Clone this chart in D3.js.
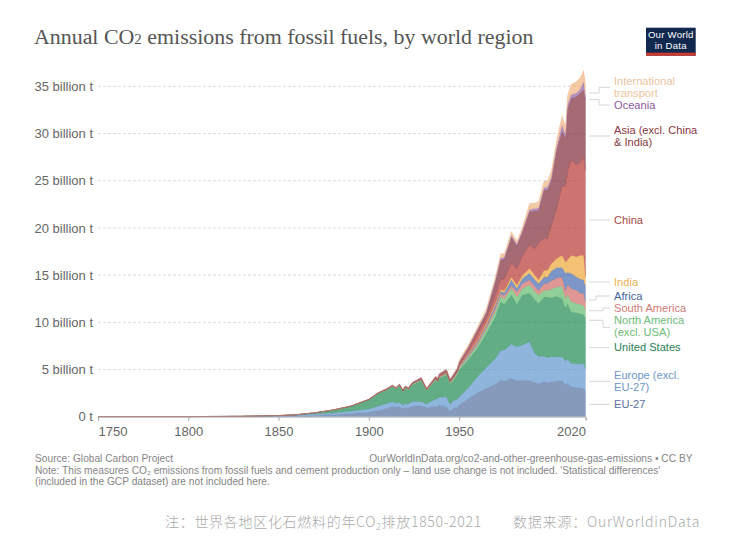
<!DOCTYPE html>
<html>
<head>
<meta charset="utf-8">
<script src="https://cdn.jsdelivr.net/npm/d3@7"></script>
<style>
  body { margin: 0; background: #fff; }
  text { font-family: "Liberation Sans", Arial, sans-serif; }
</style>
</head>
<body>
<div id="chart"></div>
<script>
// DATA (billion tonnes)
var years = [1750, 1800, 1830, 1850, 1860, 1870, 1880, 1890, 1900, 1905, 1910, 1913, 1915, 1917, 1919, 1920, 1922, 1924, 1929, 1932, 1937, 1938, 1939, 1943, 1945, 1947, 1949, 1950, 1955, 1960, 1965, 1970, 1973, 1975, 1979, 1982, 1985, 1989, 1992, 1994, 1997, 1999, 2001, 2004, 2007, 2009, 2010, 2012, 2015, 2017, 2019, 2020];

var eu27 = [0, 0.002, 0.01, 0.05, 0.08, 0.13, 0.21, 0.35, 0.46, 0.64, 0.88, 1.13, 1, 1.05, 0.85, 0.95, 0.95, 1.1, 1.15, 0.95, 1.1, 1.05, 1.25, 1.06, 0.58, 0.95, 0.95, 1.24, 1.9, 2.5, 3, 3.45, 3.9, 3.75, 4.06, 3.8, 3.85, 3.8, 3.6, 3.5, 3.7, 3.6, 3.7, 3.75, 3.8, 3.35, 3.5, 3.2, 3.07, 3.05, 3, 2.65];
var europe = [0.01, 0.01, 0.03, 0.06, 0.1, 0.15, 0.18, 0.25, 0.35, 0.49, 0.53, 0.47, 0.45, 0.45, 0.35, 0.42, 0.42, 0.5, 0.45, 0.4, 0.8, 0.85, 0.85, 1.05, 0.75, 0.8, 0.9, 0.86, 1.15, 1.7, 2.2, 2.7, 3.1, 3.3, 3.64, 3.6, 3.75, 4.15, 3.1, 2.9, 2.7, 2.65, 2.66, 2.6, 2.55, 2.55, 2.6, 2.45, 2.53, 2.55, 2.6, 2.45];
var usa = [0, 0, 0.001, 0.01, 0.03, 0.13, 0.3, 0.5, 0.95, 1.3, 1.4, 1.55, 1.45, 1.75, 1.4, 1.65, 1.45, 1.75, 2.2, 1.4, 1.95, 1.7, 1.95, 2.3, 2.15, 2.15, 2.65, 2.8, 3, 3, 3.6, 4.4, 5.2, 4.85, 5.2, 4.5, 5.3, 5.12, 5.7, 5.6, 6.3, 6.4, 6.24, 6.4, 6.15, 5.6, 5.9, 5.45, 5.4, 5.3, 5.2, 5.3];
var northAmerica = [0, 0, 0, 0, 0, 0.005, 0.01, 0.015, 0.03, 0.03, 0.05, 0.07, 0.06, 0.07, 0.07, 0.08, 0.08, 0.09, 0.1, 0.07, 0.1, 0.09, 0.1, 0.13, 0.12, 0.15, 0.15, 0.18, 0.25, 0.35, 0.45, 0.6, 0.55, 0.6, 0.7, 0.8, 0.7, 0.88, 0.85, 0.9, 0.7, 0.75, 0.9, 1, 1.3, 1, 1, 1.1, 1, 1, 1, 0.9];
var southAmerica = [0, 0, 0, 0, 0, 0, 0, 0.002, 0.01, 0.015, 0.02, 0.02, 0.02, 0.02, 0.02, 0.025, 0.03, 0.03, 0.04, 0.03, 0.05, 0.05, 0.05, 0.06, 0.06, 0.08, 0.09, 0.1, 0.13, 0.2, 0.25, 0.35, 0.3, 0.35, 0.3, 0.54, 0.5, 0.55, 0.55, 0.5, 0.7, 0.7, 0.9, 0.95, 1, 0.9, 1, 1.4, 1.4, 1.2, 1.25, 0.9];
var africa = [0, 0, 0, 0, 0, 0, 0, 0.002, 0.01, 0.015, 0.015, 0.015, 0.015, 0.015, 0.015, 0.02, 0.02, 0.02, 0.03, 0.02, 0.03, 0.03, 0.03, 0.04, 0.04, 0.06, 0.06, 0.09, 0.12, 0.17, 0.2, 0.3, 0.25, 0.28, 0.6, 0.36, 0.55, 0.7, 0.7, 0.7, 0.7, 0.7, 1, 1.1, 1, 1.8, 1.3, 1.6, 1.4, 1.5, 1.45, 1.6];
var india = [0, 0, 0, 0, 0, 0, 0.002, 0.005, 0.01, 0.015, 0.02, 0.02, 0.02, 0.02, 0.02, 0.02, 0.02, 0.02, 0.03, 0.03, 0.03, 0.03, 0.04, 0.04, 0.04, 0.04, 0.05, 0.07, 0.1, 0.13, 0.17, 0.2, 0.2, 0.25, 0.3, 0.35, 0.35, 0.5, 0.5, 0.4, 0.7, 0.75, 0.8, 0.95, 1.3, 1.2, 1.3, 1.9, 2.15, 2.5, 2.6, 1];
var china = [0, 0, 0, 0, 0, 0, 0, 0, 0, 0, 0.01, 0.01, 0.01, 0.01, 0.01, 0.01, 0.02, 0.02, 0.03, 0.03, 0.05, 0.05, 0.06, 0.08, 0.03, 0.02, 0.03, 0.08, 0.3, 0.65, 0.5, 0.8, 1.1, 1.2, 1.5, 1.75, 2, 2.5, 2.8, 3.9, 3.4, 3.3, 4, 5.2, 7.3, 8.1, 9.2, 10.1, 9.75, 9.8, 10.4, 11.3];
var asia = [0, 0, 0, 0, 0, 0, 0.002, 0.005, 0.02, 0.03, 0.04, 0.05, 0.05, 0.05, 0.06, 0.06, 0.07, 0.07, 0.09, 0.07, 0.15, 0.18, 0.2, 0.22, 0.17, 0.25, 0.2, 0.32, 0.35, 0.4, 0.6, 1.45, 2, 2.1, 2.7, 2.4, 2.5, 3.5, 4, 3.45, 5.1, 5.2, 4.8, 6.3, 5.8, 5.05, 6.7, 6.5, 7.2, 7.4, 7.1, 7.4];
var oceania = [0, 0, 0, 0, 0, 0, 0.002, 0.005, 0.01, 0.015, 0.02, 0.02, 0.02, 0.02, 0.02, 0.02, 0.02, 0.02, 0.03, 0.02, 0.03, 0.03, 0.03, 0.03, 0.03, 0.04, 0.04, 0.05, 0.07, 0.1, 0.13, 0.17, 0.2, 0.2, 0.2, 0.2, 0.2, 0.25, 0.25, 0.25, 0.25, 0.27, 0.27, 0.3, 0.7, 0.35, 0.5, 0.4, 0.4, 0.4, 0.9, 0.5];
var transport = [0, 0, 0, 0, 0, 0, 0, 0, 0, 0, 0, 0, 0, 0, 0, 0, 0, 0, 0, 0, 0, 0, 0, 0, 0, 0.05, 0.05, 0.21, 0.22, 0.25, 0.3, 0.36, 0.45, 0.4, 0.45, 0.3, 0.4, 0.65, 0.6, 0.7, 0.7, 0.7, 0.7, 0.8, 1, 0.9, 1, 1.1, 1.2, 1.2, 1.2, 1.3];

var seriesNames = ["EU-27", "Europe (excl. EU-27)", "United States", "North America (excl. USA)", "South America", "Africa", "India", "China", "Asia (excl. China & India)", "Oceania", "International transport"];
var seriesValues = [eu27, europe, usa, northAmerica, southAmerica, africa, india, china, asia, oceania, transport];

var yTicks = [0, 5, 10, 15, 20, 25, 30, 35];
var xTicks = [1750, 1800, 1850, 1900, 1950, 2020];

// COLOURS
var fills = ["#4C6A9C", "#5B92CC", "#18864B", "#5DB868", "#CF6560", "#3C64AC", "#EDA430", "#B6322E", "#7B2430", "#8C5AA0", "#EDB07C"];
var labelColors = ["#5A6F9E", "#6E96C8", "#2A8058", "#6DBB78", "#CF7C78", "#43619F", "#EDB050", "#A84848", "#883840", "#8E5AA0", "#EDC49E"];

// LABEL LAYOUT: lines, baseline of first line, connector path
var labelLayout = [
  { lines: ["EU-27"], y: 408, path: "M589,404.3H610" },
  { lines: ["Europe (excl.", "EU-27)"], y: 379, path: "M589,381.3H610" },
  { lines: ["United States"], y: 351, path: "M589,347.7H610" },
  { lines: ["North America", "(excl. USA)"], y: 324, path: "M589,320.3H603V327.3H610" },
  { lines: ["South America"], y: 312, path: "M589,310.7H603V308H610" },
  { lines: ["Africa"], y: 300, path: "M589,300H596V296H610" },
  { lines: ["India"], y: 286, path: "M589,282H610" },
  { lines: ["China"], y: 223.5, path: "M589,220H610" },
  { lines: ["Asia (excl. China", "& India)"], y: 134, path: "M589,136H610" },
  { lines: ["Oceania"], y: 108.5, path: "M589,99.7H599V105H610" },
  { lines: ["International", "transport"], y: 85, path: "M589,93H599V87.3H610" }
];

var w = 732;
var h = 548;

var svg = d3.select("#chart").append("svg").attr("width", w).attr("height", h);

// SCALES
var xScale = d3.scaleLinear().domain([1750, 2020]).range([98, 585.5]);
var yScale = d3.scaleLinear().domain([0, 35]).range([416.7, 86.3]);

// TITLE
var title = svg.append("text")
  .attr("x", 34).attr("y", 44)
  .attr("font-size", "21.9px")
  .attr("fill", "#555")
  .style("font-family", "'Liberation Serif', Georgia, serif");
title.append("tspan").text("Annual CO");
title.append("tspan").attr("font-size", "15px").text("2");
title.append("tspan").text(" emissions from fossil fuels, by world region");

// LOGO
svg.append("rect").attr("x", 646).attr("y", 27.7).attr("width", 49.7).attr("height", 28).attr("fill", "#12294f");
svg.append("rect").attr("x", 646).attr("y", 52.7).attr("width", 49.7).attr("height", 3).attr("fill", "#cf3a2e");
svg.append("text").attr("x", 670.8).attr("y", 38).attr("text-anchor", "middle").attr("font-size", "9.6px").attr("letter-spacing", "0.25").attr("fill", "#fff").text("Our World");
svg.append("text").attr("x", 670.8).attr("y", 49.2).attr("text-anchor", "middle").attr("font-size", "9.6px").attr("letter-spacing", "0.25").attr("fill", "#fff").text("in Data");

// GRID + Y AXIS
var yAxis = d3.axisLeft(yScale)
  .tickValues(yTicks)
  .tickSize(0)
  .tickPadding(5)
  .tickFormat(function (d) { return d === 0 ? "0 t" : d + " billion t"; });
var yG = svg.append("g").attr("transform", "translate(98,0)").call(yAxis);
yG.select(".domain").remove();
yG.selectAll("text").attr("font-size", "13px").attr("fill", "#666").style("font-family", "'Liberation Sans'");

svg.append("g").selectAll("line")
  .data(yTicks.slice(1))
  .enter()
  .append("line")
  .attr("x1", 98).attr("x2", 585.5)
  .attr("y1", function (d) { return yScale(d); })
  .attr("y2", function (d) { return yScale(d); })
  .attr("stroke", "#ddd")
  .attr("stroke-dasharray", "3,2");

// STACKED AREAS
var rows = years.map(function (yr, i) {
  var row = { year: yr };
  seriesNames.forEach(function (name, k) { row[name] = seriesValues[k][i]; });
  return row;
});
var stacked = d3.stack().keys(seriesNames)(rows);

var area = d3.area()
  .x(function (d) { return xScale(d.data.year); })
  .y0(function (d) { return yScale(d[0]); })
  .y1(function (d) { return yScale(d[1]); });

svg.append("g").selectAll("path")
  .data(stacked)
  .enter()
  .append("path")
  .attr("d", area)
  .attr("fill", function (d, i) { return fills[i]; })
  .attr("fill-opacity", 0.68)
  .attr("stroke", function (d, i) { return fills[i]; })
  .attr("stroke-opacity", 0.35)
  .attr("stroke-width", 0.5);

// X AXIS
var xAxis = d3.axisBottom(xScale)
  .tickValues(xTicks)
  .tickSize(4)
  .tickPadding(4)
  .tickFormat(d3.format("d"));
var xG = svg.append("g").attr("transform", "translate(0,416.7)").call(xAxis);
xG.select(".domain").attr("stroke", "#bbb");
xG.selectAll("line").attr("stroke", "#aaa");
xG.selectAll("text")
  .attr("font-size", "13px")
  .attr("fill", "#666")
  .attr("dy", "0.85em")
  .style("font-family", "'Liberation Sans'")
  .attr("text-anchor", function (d) { return d === 1750 ? "start" : d === 2020 ? "end" : "middle"; });

// SERIES LABELS
var labels = svg.append("g").selectAll("g")
  .data(labelLayout)
  .enter()
  .append("g");
labels.append("path")
  .attr("d", function (d) { return d.path; })
  .attr("fill", "none")
  .attr("stroke", "#ccc")
  .attr("stroke-width", 0.8);
labels.each(function (d, i) {
  var g = d3.select(this);
  d.lines.forEach(function (line, j) {
    g.append("text")
      .attr("x", 614)
      .attr("y", d.y + j * 12)
      .attr("font-size", "11.1px")
      .attr("fill", labelColors[i])
      .text(line);
  });
});

// FOOTER
var footerColor = "#858585";
svg.append("text").attr("x", 35).attr("y", 462).attr("font-size", "10.2px").attr("fill", footerColor).text("Source: Global Carbon Project");
svg.append("text").attr("x", 692.5).attr("y", 462).attr("text-anchor", "end").attr("font-size", "10.2px").attr("fill", footerColor).text("OurWorldInData.org/co2-and-other-greenhouse-gas-emissions • CC BY");
svg.append("text").attr("x", 35).attr("y", 474).attr("font-size", "10.2px").attr("fill", footerColor).text("Note: This measures CO₂ emissions from fossil fuels and cement production only – land use change is not included. 'Statistical differences'");
svg.append("text").attr("x", 35).attr("y", 485).attr("font-size", "10.2px").attr("fill", footerColor).text("(included in the GCP dataset) are not included here.");

// CAPTION
var caption = svg.append("g").style("font-size", "14px").attr("fill", "#aaa");
var capLeft = caption.append("text").attr("x", 165).attr("y", 527).style("font-family", "'Noto Sans CJK SC'").style("font-weight", 300).attr("letter-spacing", "0.7");
capLeft.append("tspan").text("注：世界各地区化石燃料的年CO");
capLeft.append("tspan").attr("font-size", "9px").attr("dy", 3).text("2");
capLeft.append("tspan").attr("dy", -3).text("排放1850-2021");
caption.append("text").attr("x", 513).attr("y", 527).style("font-family", "'Noto Sans CJK SC'").style("font-weight", 300).attr("letter-spacing", "0.8").text("数据来源：OurWorldinData");
</script>
</body>
</html>
